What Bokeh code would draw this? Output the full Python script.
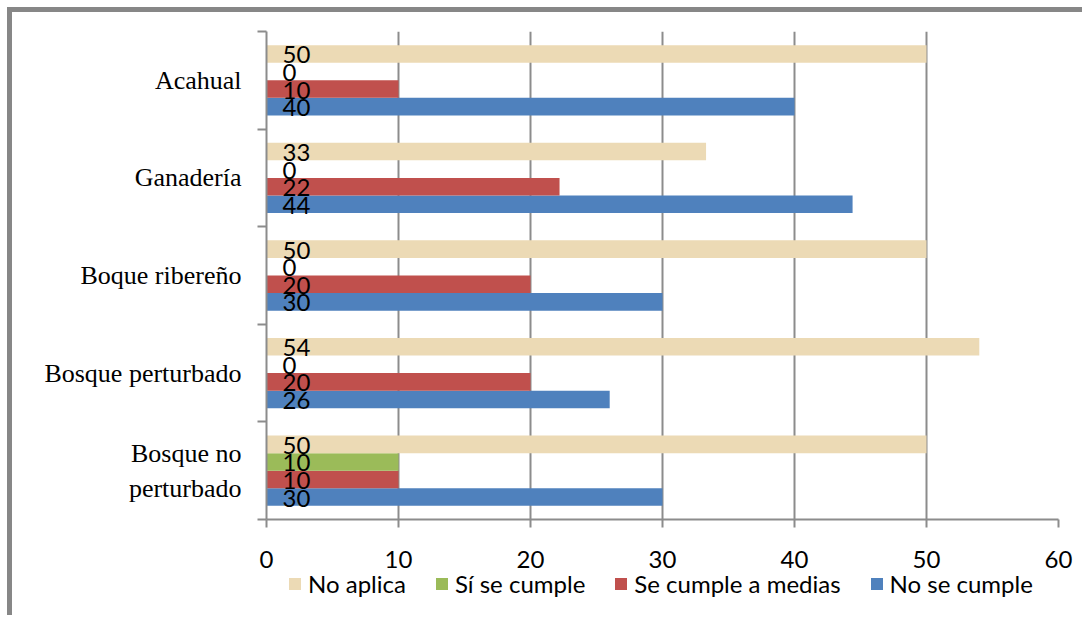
from bokeh.plotting import figure
from bokeh.layouts import column
from bokeh.models import ColumnDataSource, Range1d, FixedTicker, Legend, LegendItem
from bokeh.core.properties import value
from bokeh.embed import file_html
from bokeh.resources import INLINE

# ---- data ----
categories = ["Bosque no\nperturbado", "Bosque perturbado", "Boque ribereño", "Ganadería", "Acahual"]
series_names = ["No se cumple", "Se cumple a medias", "Sí se cumple", "No aplica"]
no_se_cumple = [30, 26, 30, 44.4, 40]
se_cumple_a_medias = [10, 20, 20, 22.2, 10]
si_se_cumple = [10, 0, 0, 0, 0]
no_aplica = [50, 54, 50, 33.3, 50]
x_ticks = [0, 10, 20, 30, 40, 50, 60]
series_values = [no_se_cumple, se_cumple_a_medias, si_se_cumple, no_aplica]
colors = ["#4F81BD", "#C0504D", "#9BBB59", "#ECDAB5"]
legend_order = ["No aplica", "Sí se cumple", "Se cumple a medias", "No se cumple"]

GRID = "#8c8c8c"
NUM_FONT = "Lato"

p = figure(width=1075, height=608, output_backend="svg", toolbar_location=None,
           x_range=Range1d(0, 60), y_range=Range1d(0, len(categories)),
           min_border_left=254, min_border_right=29, min_border_top=19, min_border_bottom=101)
p.styles = {"margin-left": "7px", "margin-top": "7px",
            "border-left": "5px solid #878787", "border-top": "5px solid #878787"}
p.outline_line_color = None
p.background_fill_color = "white"
p.border_fill_color = "white"

bar_h = 0.18
sources = {}
for k, (name, vals, col) in enumerate(zip(series_names, series_values, colors)):
    off = (k - 1.5) * bar_h
    ys = [i + 0.5 + off for i in range(len(categories))]
    src = ColumnDataSource(dict(y=ys, right=vals, lab=[str(round(v)) for v in vals],
                                x0=[0] * len(vals)))
    sources[name] = src
    p.hbar(y="y", left=0, right="right", height=bar_h, source=src,
           fill_color=col, line_color=None)
    p.text(x="x0", y="y", text="lab", source=src, x_offset=16, y_offset=1,
           text_font=value(NUM_FONT), text_font_size="24px", text_color="black",
           text_baseline="middle", text_align="left")

# x axis
xa = p.xaxis[0]
xa.ticker = FixedTicker(ticks=x_ticks)
xa.axis_line_color = GRID
xa.axis_line_width = 2
xa.major_tick_line_color = GRID
xa.major_tick_line_width = 2
xa.major_tick_out = 8
xa.major_tick_in = 0
xa.minor_tick_line_color = None
xa.major_label_text_font = NUM_FONT
xa.major_label_text_font_size = "24px"
xa.major_label_text_color = "black"
xa.major_label_standoff = 23

p.xgrid.ticker = FixedTicker(ticks=x_ticks)
p.xgrid.grid_line_color = GRID
p.xgrid.grid_line_width = 2
p.ygrid.grid_line_color = None

# y axis
ya = p.yaxis[0]
ya.ticker = FixedTicker(ticks=[i + 0.5 for i in range(len(categories))],
                        minor_ticks=list(range(len(categories) + 1)))
ya.major_label_overrides = {i + 0.5: c for i, c in enumerate(categories)}
ya.axis_line_color = GRID
ya.axis_line_width = 2
ya.major_tick_line_color = None
ya.major_tick_out = 0
ya.major_tick_in = 0
ya.minor_tick_line_color = GRID
ya.minor_tick_line_width = 2
ya.minor_tick_out = 9
ya.minor_tick_in = 0
ya.major_label_text_font = "Liberation Serif"
ya.major_label_text_font_size = "26px"
ya.major_label_text_color = "black"
ya.major_label_standoff = 16

# ---- legend strip, overlaid at the bottom (its bars lie outside its view) ----
p2 = figure(width=1075, height=50, output_backend="svg", toolbar_location=None,
            x_range=Range1d(0, 60), y_range=Range1d(100, 101),
            x_axis_type=None, y_axis_type=None,
            min_border_left=254, min_border_right=29, min_border_top=0, min_border_bottom=0)
p2.styles = {"margin-left": "12px", "margin-top": "-50px"}
p2.outline_line_color = None
p2.background_fill_alpha = 0
p2.border_fill_alpha = 0
p2.grid.grid_line_color = None
leg_r = {}
for name, col in zip(series_names, colors):
    leg_r[name] = p2.hbar(y="y", left=0, right="right", height=bar_h, source=sources[name],
                          fill_color=col, line_color=None)
legend = Legend(items=[LegendItem(label=n, renderers=[leg_r[n]]) for n in legend_order],
                orientation="horizontal", location=(21, 17),
                label_text_font=NUM_FONT, label_text_font_size="24px", label_text_color="black",
                glyph_width=15, glyph_height=15, label_standoff=6, spacing=28,
                padding=0, margin=0, border_line_color=None, background_fill_alpha=0)
p2.add_layout(legend, "center")

layout = column(p, p2, spacing=0)
open("out.html", "w").write(file_html(layout, INLINE))
